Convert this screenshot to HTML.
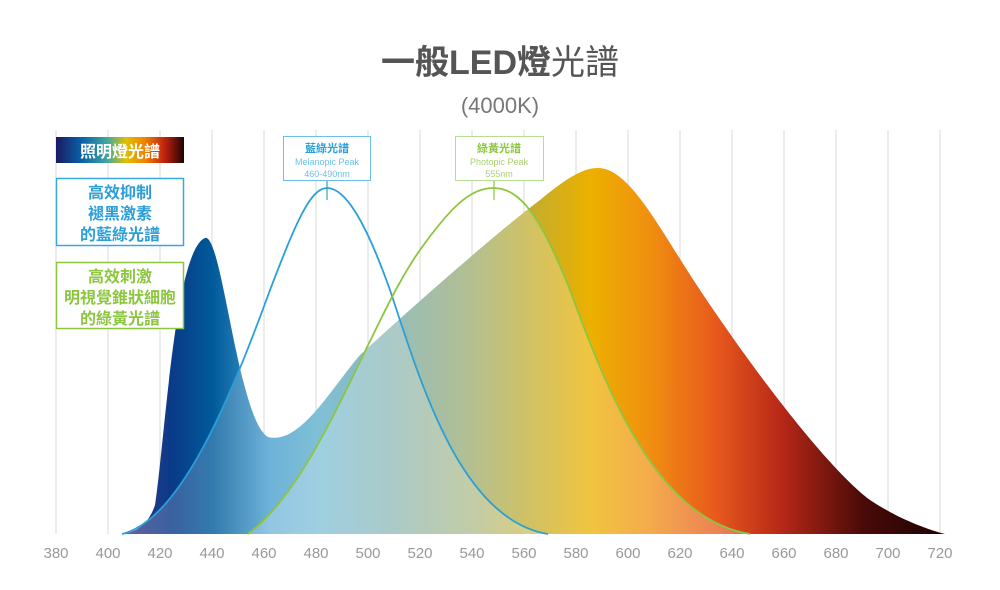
<!DOCTYPE html>
<html><head><meta charset="utf-8"><style>
body{margin:0;background:#fff;width:1000px;height:590px;overflow:hidden}
svg{display:block}
</style></head><body>
<svg width="1000" height="590" viewBox="0 0 1000 590" xmlns="http://www.w3.org/2000/svg" font-family="Liberation Sans, Noto Sans CJK TC, sans-serif">
<defs>
<linearGradient id="sp" gradientUnits="userSpaceOnUse" x1="122" y1="0" x2="945" y2="0">
<stop offset="0" stop-color="#3a3a88"/>
<stop offset="0.06" stop-color="#0a3a88"/>
<stop offset="0.11" stop-color="#005a9a"/>
<stop offset="0.18" stop-color="#4aa0d0"/>
<stop offset="0.24" stop-color="#60b0cc"/>
<stop offset="0.32" stop-color="#70a8a8"/>
<stop offset="0.42" stop-color="#98aa70"/>
<stop offset="0.5" stop-color="#c4ae2c"/>
<stop offset="0.57" stop-color="#ecb000"/>
<stop offset="0.64" stop-color="#f09010"/>
<stop offset="0.72" stop-color="#e85a1c"/>
<stop offset="0.8" stop-color="#b82818"/>
<stop offset="0.9" stop-color="#4a0a08"/>
<stop offset="1" stop-color="#1a0404"/>
</linearGradient>
<linearGradient id="lg" x1="0" y1="0" x2="1" y2="0">
<stop offset="0" stop-color="#1a1a60"/><stop offset="0.2" stop-color="#0a60a8"/><stop offset="0.4" stop-color="#40a8a0"/><stop offset="0.55" stop-color="#e0c000"/><stop offset="0.7" stop-color="#f08000"/><stop offset="0.85" stop-color="#c02010"/><stop offset="1" stop-color="#200404"/>
</linearGradient>
<clipPath id="cb"><path d="M122,534 C180,520 230,400 270,290 C295,225 310,188 327,188 C345,188 365,220 390,290 C420,380 460,520 548,534 Z"/></clipPath>
<clipPath id="cg"><path d="M248,534 C320,480 370,320 420,250 C450,208 470,188 493,188 C520,188 540,215 570,290 C610,400 660,520 750,534 Z"/></clipPath>
<path id="spec" d="M122,534 C140,532 150,520 155,505 C165,440 175,250 205,238 C222,232 238,420 268,437 C300,445 330,390 360,355 C420,300 500,230 540,200 C570,175 585,168 598,168 C630,168 660,230 700,290 C760,380 830,470 870,500 C900,520 930,530 945,534 Z"/>
</defs>
<g stroke="#d8d8d8" stroke-width="1">
<line x1="56" y1="130" x2="56" y2="534"/><line x1="108" y1="130" x2="108" y2="534"/><line x1="160" y1="130" x2="160" y2="534"/><line x1="212" y1="130" x2="212" y2="534"/><line x1="264" y1="130" x2="264" y2="534"/><line x1="316" y1="130" x2="316" y2="534"/><line x1="368" y1="130" x2="368" y2="534"/><line x1="420" y1="130" x2="420" y2="534"/><line x1="472" y1="130" x2="472" y2="534"/><line x1="524" y1="130" x2="524" y2="534"/><line x1="576" y1="130" x2="576" y2="534"/><line x1="628" y1="130" x2="628" y2="534"/><line x1="680" y1="130" x2="680" y2="534"/><line x1="732" y1="130" x2="732" y2="534"/><line x1="784" y1="130" x2="784" y2="534"/><line x1="836" y1="130" x2="836" y2="534"/><line x1="888" y1="130" x2="888" y2="534"/><line x1="940" y1="130" x2="940" y2="534"/>
</g>
<use href="#spec" style="fill:url(#sp)"/>
<g clip-path="url(#cb)"><use href="#spec" fill="#fff" opacity="0.2"/></g>
<g clip-path="url(#cg)"><use href="#spec" fill="#fff" opacity="0.25"/></g>
<path d="M122,534 C180,520 230,400 270,290 C295,225 310,188 327,188 C345,188 365,220 390,290 C420,380 460,520 548,534" fill="none" stroke="#2a9fd8" stroke-width="1.8"/>
<path d="M248,534 C320,480 370,320 420,250 C450,208 470,188 493,188 C520,188 540,215 570,290 C610,400 660,520 750,534" fill="none" stroke="#8cc63f" stroke-width="1.8"/>
<line x1="327" y1="180" x2="327" y2="200" stroke="#2a9fd8" stroke-width="1.2"/>
<line x1="494" y1="180" x2="494" y2="200" stroke="#8cc63f" stroke-width="1.2"/>
<rect x="283.5" y="136.5" width="87" height="44" fill="#fff" stroke="#6cc0e8"/>
<text x="327" y="152" text-anchor="middle" font-size="11" font-weight="bold" fill="#2a9fd8">藍綠光譜</text>
<text x="327" y="165" text-anchor="middle" font-size="9" fill="#6cc0e8">Melanopic Peak</text>
<text x="327" y="177" text-anchor="middle" font-size="9" fill="#6cc0e8">460-490nm</text>
<rect x="455.5" y="136.5" width="88" height="44" fill="#fff" stroke="#b8dc90"/>
<text x="499" y="152" text-anchor="middle" font-size="11" font-weight="bold" fill="#8cc63f">綠黃光譜</text>
<text x="499" y="165" text-anchor="middle" font-size="9" fill="#a8d070">Photopic Peak</text>
<text x="499" y="177" text-anchor="middle" font-size="9" fill="#a8d070">555nm</text>
<rect x="56" y="137" width="128" height="26" fill="url(#lg)"/>
<text x="120" y="157" text-anchor="middle" font-size="16" font-weight="bold" fill="#fff">照明燈光譜</text>
<rect x="56.5" y="178.5" width="127" height="67" fill="#fff" stroke="#3aa8e0" stroke-width="1.5"/>
<g font-size="16" font-weight="bold" fill="#2a9fd8" text-anchor="middle">
<text x="120" y="198">高效抑制</text><text x="120" y="219">褪黑激素</text><text x="120" y="240">的藍綠光譜</text></g>
<rect x="56.5" y="262.5" width="127" height="66" fill="#fff" stroke="#8cc63f" stroke-width="1.5"/>
<g font-size="16" font-weight="bold" fill="#8cc63f" text-anchor="middle">
<text x="120" y="282">高效刺激</text><text x="120" y="303">明視覺錐狀細胞</text><text x="120" y="324">的綠黃光譜</text></g>
<text x="500" y="74" text-anchor="middle" font-size="34" fill="#555"><tspan font-weight="bold">一般LED燈</tspan><tspan>光譜</tspan></text>
<text x="500" y="113" text-anchor="middle" font-size="22" fill="#777">(4000K)</text>
<g font-size="15" fill="#999" text-anchor="middle">
<text x="56" y="558">380</text><text x="108" y="558">400</text><text x="160" y="558">420</text><text x="212" y="558">440</text><text x="264" y="558">460</text><text x="316" y="558">480</text><text x="368" y="558">500</text><text x="420" y="558">520</text><text x="472" y="558">540</text><text x="524" y="558">560</text><text x="576" y="558">580</text><text x="628" y="558">600</text><text x="680" y="558">620</text><text x="732" y="558">640</text><text x="784" y="558">660</text><text x="836" y="558">680</text><text x="888" y="558">700</text><text x="940" y="558">720</text>
</g>
</svg>
</body></html>
